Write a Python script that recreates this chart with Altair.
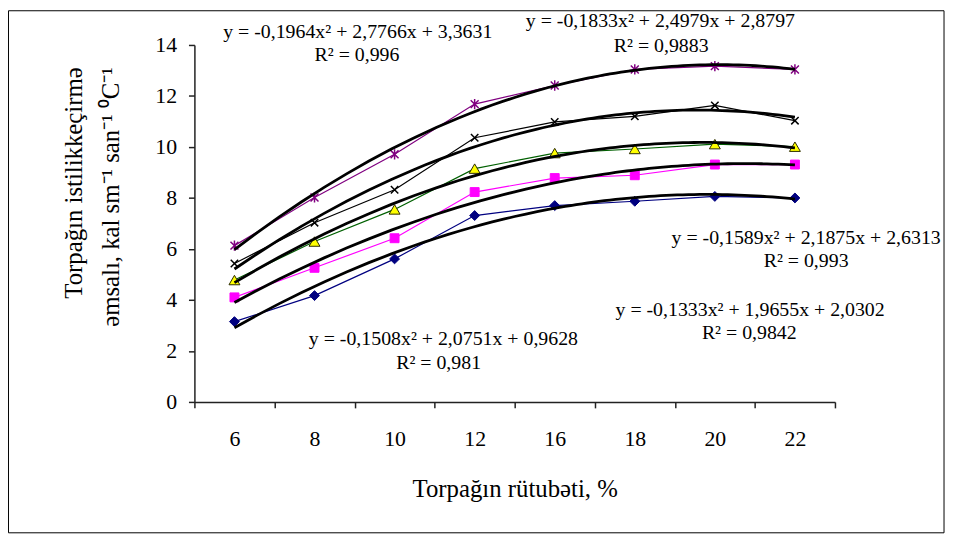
import altair as alt
import pandas as pd

# ---------------- data ----------------
categories = ["6", "8", "10", "12", "16", "18", "20", "22"]
series_names = ["1,1", "1,2", "1,3", "1,4", "1,5"]
s11 = [3.15, 4.17, 5.61, 7.31, 7.70, 7.87, 8.06, 8.00]
s12 = [4.10, 5.26, 6.42, 8.23, 8.78, 8.89, 9.31, 9.31]
s13 = [4.78, 6.29, 7.55, 9.15, 9.76, 9.92, 10.11, 10.01]
s14 = [5.43, 7.03, 8.32, 10.36, 10.98, 11.20, 11.63, 11.03]
s15 = [6.13, 8.02, 9.71, 11.68, 12.41, 13.04, 13.17, 13.04]
all_series = [s11, s12, s13, s14, s15]

eq_labels = [
    "y = -0,1964x² + 2,7766x + 3,3631", "R² = 0,996",
    "y = -0,1833x² + 2,4979x + 2,8797", "R² = 0,9883",
    "y = -0,1589x² + 2,1875x + 2,6313", "R² = 0,993",
    "y = -0,1333x² + 1,9655x + 2,0302", "R² = 0,9842",
    "y = -0,1508x² + 2,0751x + 0,9628", "R² = 0,981",
]
eq_i = [2.54, 2.53, 6.32, 6.33, 8.14, 8.14, 7.44, 7.43, 3.61, 3.55]
eq_v = [14.51, 13.61, 14.93, 13.96, 6.42, 5.52, 3.62, 2.72, 2.45, 1.52]

y_title = ["Torpağın istilikkeçirmə", "əmsalı, kal sm⁻¹ san⁻¹ ⁰C⁻¹"]
x_title = "Torpağın rütubəti, %"

rows = []
for name, vals in zip(series_names, all_series):
    for k, (c, v) in enumerate(zip(categories, vals)):
        rows.append({"series": name, "cat": c, "i": k + 1, "v": v})
df = pd.DataFrame(rows)
eq_df = pd.DataFrame({"i": eq_i, "v": eq_v, "label": eq_labels})

# ---------------- styles ----------------
FONT = "Liberation Serif"
W, H = 646, 360
line_colors = ["#000080", "#FF00FF", "#006000", "#000000", "#800080"]
fill_colors = ["#000080", "#FF00FF", "#FFFF00", "#000000", "#800080"]
stroke_colors = ["#000080", "#FF00FF", "#2a2a00", "#000000", "#800080"]
legend_stroke = ["#000080", "#FF00FF", "#004a00", "#000000", "#800080"]
marker_shapes = ["diamond", "square", "triangle-up",
                 "M-1,-1L1,1M-1,1L1,-1",
                 "M-1,-1L1,1M-1,1L1,-1M0,-1.3L0,1.3"]
marker_sizes = [100, 81, 121, 56, 64]
marker_filled = [True, True, True, False, False]
legend_shapes = [
    "M-5,0L5,0M0,-1.1L1.1,0L0,1.1L-1.1,0Z",
    "M-5,0L5,0M-1,-1L1,-1L1,1L-1,1Z",
    "M-5,0L-1,0M1,0L5,0M0,-1.2L1.15,0.85L-1.15,0.85Z",
    "M-5,0L5,0M-0.8,-0.8L0.8,0.8M-0.8,0.8L0.8,-0.8",
    "M-5,0L5,0M-0.8,-0.8L0.8,0.8M-0.8,0.8L0.8,-0.8M0,-1.1L0,1.1",
]

xscale = alt.Scale(type="band", domain=categories, paddingInner=0, paddingOuter=0)
x_axis = alt.Axis(
    tickBand="extent", labelAngle=0, tickSize=6, tickWidth=1.5, tickColor="#222",
    domainColor="#222", domainWidth=1.5, labelFont=FONT, labelFontSize=22,
    labelColor="black", labelPadding=21, titleFont=FONT, titleFontSize=25,
    titleFontWeight="normal", titleColor="black", titlePadding=27, grid=False,
)
yenc = alt.Y(
    "v:Q",
    scale=alt.Scale(domain=[0, 14]),
    title=y_title,
    axis=alt.Axis(
        values=list(range(0, 15, 2)), tickSize=6, tickWidth=1.5, tickColor="#222",
        domainColor="#222", domainWidth=1.5, labelFont=FONT, labelFontSize=22,
        labelColor="black", labelPadding=12, grid=False,
        titleFont=FONT, titleFontSize=25, titleFontWeight="normal", titleColor="black",
        titleAngle=270, titleAlign="right", titleBaseline="top",
        titleX=-134, titleY=22, titleLineHeight=37,
    ),
)

base = alt.Chart(df)

lines = base.mark_line(strokeWidth=1.2).encode(
    x=alt.X("cat:N", scale=xscale, axis=x_axis, title=x_title),
    y=yenc,
    color=alt.Color("series:N", scale=alt.Scale(domain=series_names, range=line_colors),
                    legend=alt.Legend(orient="none", legendX=2000, legendY=0, title="c")),
)

marker_layers = []
for k, name in enumerate(series_names):
    marker_layers.append(
        base.transform_filter(alt.datum.series == name)
        .mark_point(shape=marker_shapes[k], filled=marker_filled[k], fill=fill_colors[k],
                    stroke=stroke_colors[k], size=marker_sizes[k],
                    strokeWidth=1.0 if marker_filled[k] else 1.5, opacity=1)
        .encode(x=alt.X("cat:N", scale=xscale, axis=None), y=yenc)
    )

trend = base.transform_regression(
    "i", "v", groupby=["series"], method="poly", order=2, extent=[1, 8]
).mark_line(color="black", strokeWidth=2.8).encode(
    x=alt.X("i:Q", scale=alt.Scale(domain=[0.5, 8.5]), axis=None),
    y=yenc,
    detail="series:N",
)

texts = alt.Chart(eq_df).mark_text(
    font=FONT, fontSize=20, color="black", align="center", baseline="middle"
).encode(
    x=alt.X("i:Q", scale=alt.Scale(domain=[0.5, 8.5]), axis=None),
    y=yenc,
    text="label:N",
)

leg = alt.Legend(
    title=None, orient="none", legendX=678, legendY=343, direction="vertical",
    strokeColor="black", fillColor="white", padding=7, symbolSize=81,
    symbolStrokeWidth=1.5, symbolOpacity=1, labelFont=FONT, labelFontSize=20,
    labelColor="black", rowPadding=12, symbolOffset=12, labelOffset=11,
    symbolFillColor={"expr": "scale('fill', datum.value)"},
    symbolStrokeColor={"expr": "scale('stroke', datum.value)"},
)
legend_layer = base.mark_point(filled=True).encode(
    x=alt.X("cat:N", scale=xscale, axis=None),
    y=yenc,
    opacity=alt.value(0),
    shape=alt.Shape("series:N", scale=alt.Scale(domain=series_names, range=legend_shapes), legend=leg),
    fill=alt.Fill("series:N", scale=alt.Scale(domain=series_names, range=fill_colors), legend=None),
    stroke=alt.Stroke("series:N", scale=alt.Scale(domain=series_names, range=legend_stroke), legend=None),
)

frame = alt.Chart(pd.DataFrame({"a": [0]})).mark_rect(
    fillOpacity=0, stroke="black", strokeWidth=1
).encode(x=alt.value(-187.5), x2=alt.value(756), y=alt.value(-34.5), y2=alt.value(492))

chart = alt.layer(
    frame, lines, *marker_layers, trend, texts, legend_layer
).resolve_scale(x="independent").properties(
    width=W, height=H,
    padding={"left": 188, "top": 35, "right": 113, "bottom": 140},
    autosize=alt.AutoSizeParams(type="none"),
    background="white",
).configure_view(strokeWidth=0).configure_axis(
    labelFont=FONT, titleFont=FONT
).configure_legend(labelFont=FONT).configure_text(font=FONT)

chart.save("out.html", embed_options={"renderer": "svg", "actions": False})
